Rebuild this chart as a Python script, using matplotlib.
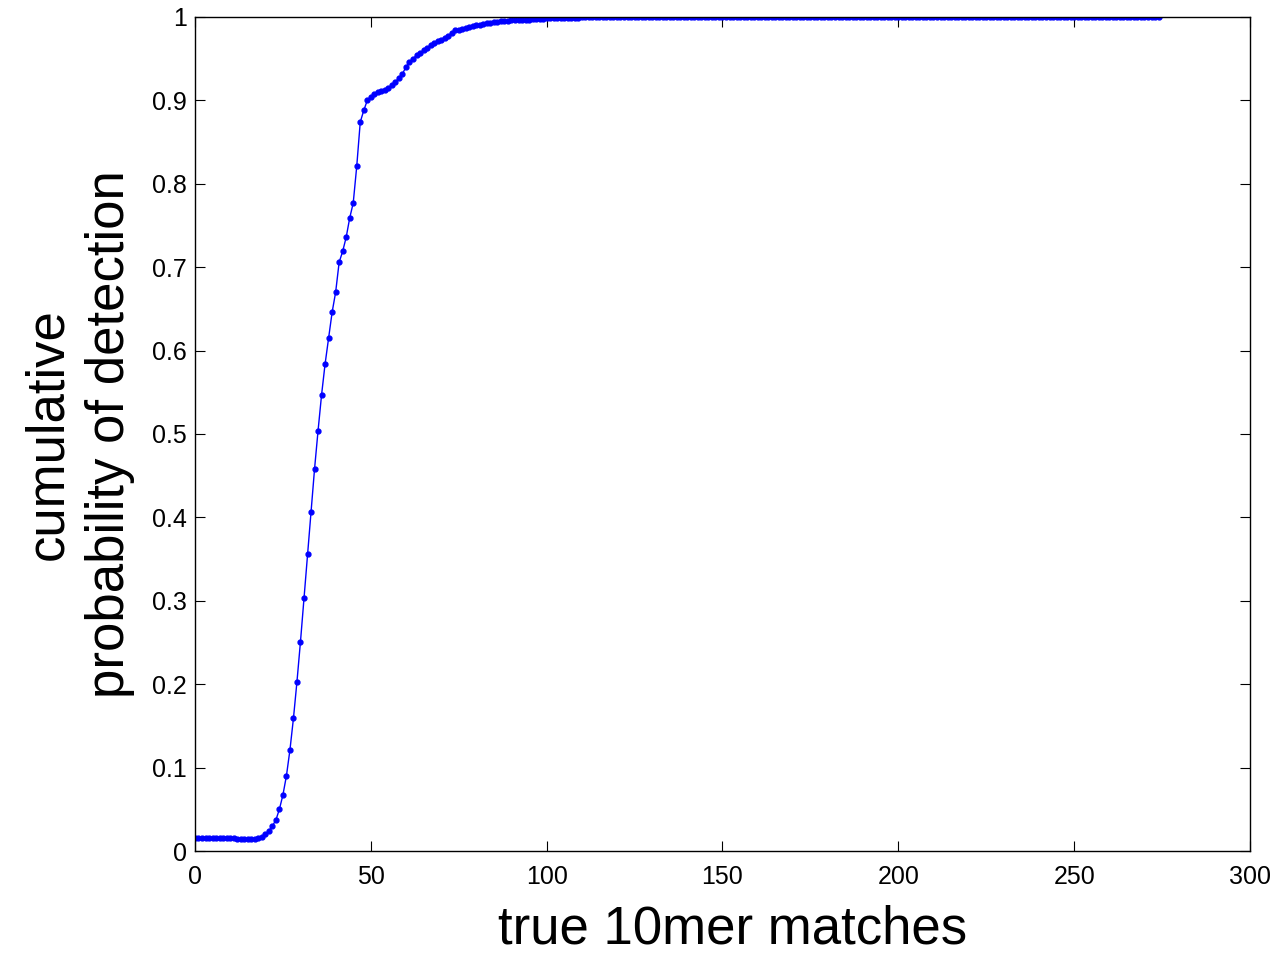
import matplotlib
matplotlib.use('Agg')
import matplotlib.pyplot as plt
import numpy as np

# cumulative probability, one value per integer match count
head = [0.016, 0.016, 0.016, 0.016, 0.016, 0.016, 0.016, 0.016, 0.016, 0.016,
        0.015, 0.015, 0.014, 0.014, 0.014, 0.014, 0.014, 0.014, 0.015, 0.017,
        0.020, 0.024, 0.030, 0.037, 0.050, 0.067, 0.090, 0.121, 0.159, 0.203,
        0.251, 0.303, 0.356, 0.407, 0.458, 0.504, 0.547, 0.584, 0.615, 0.646,
        0.670, 0.706, 0.719, 0.736, 0.759, 0.777, 0.821, 0.874, 0.888, 0.900,
        0.904, 0.908, 0.910, 0.911, 0.913, 0.915, 0.918, 0.922, 0.927, 0.932,
        0.940, 0.946, 0.950, 0.954, 0.957, 0.960, 0.963, 0.966, 0.969, 0.971,
        0.973, 0.975, 0.977, 0.981, 0.984, 0.985, 0.986, 0.987, 0.988, 0.989,
        0.990, 0.991, 0.992, 0.993, 0.993, 0.994, 0.994, 0.995, 0.995, 0.995,
        0.996, 0.996, 0.997, 0.997, 0.997, 0.997, 0.998, 0.998, 0.998, 0.998,
        0.999, 0.999, 0.999, 0.999, 0.999, 0.999, 0.999, 0.999, 0.999, 0.999,
        0.9995, 0.9995, 0.9995, 0.9995, 0.9995, 1.0, 1.0, 1.0, 1.0, 1.0]
tail = [1.0] * 155
prob = np.array(head + tail)
matches = np.arange(len(prob))

xticks = [0, 50, 100, 150, 200, 250, 300]
yticks = [0, 0.1, 0.2, 0.3, 0.4, 0.5, 0.6, 0.7, 0.8, 0.9, 1]
ylabels = ['0', '0.1', '0.2', '0.3', '0.4', '0.5', '0.6', '0.7', '0.8', '0.9', '1']

plt.rcParams['font.family'] = ['Liberation Sans', 'DejaVu Sans']

fig = plt.figure(figsize=(12.76, 9.55), dpi=100)
ax = fig.add_axes([0.1528, 0.1089, 0.8268, 0.8733])

ax.plot(matches, prob, color='#0000ff', linewidth=1.0,
        marker='.', markersize=7)

ax.set_xlim(0, 300)
ax.set_ylim(0, 1)
ax.set_xticks(xticks)
ax.set_yticks(yticks)
ax.set_yticklabels(ylabels)
ax.tick_params(direction='in', length=7, width=0.8, labelsize=18,
               top=True, right=True)
ax.tick_params(axis='x', pad=10)
ax.tick_params(axis='y', pad=6)
for s in ax.spines.values():
    s.set_linewidth(1.0)

ax.set_xlabel('true 10mer matches', fontsize=38)
ax.xaxis.set_label_coords(0.51, -0.064)
ax.set_ylabel('cumulative\nprobability of detection', fontsize=38,
              labelpad=12, linespacing=1.3)

plt.savefig('out.png', dpi=100)
